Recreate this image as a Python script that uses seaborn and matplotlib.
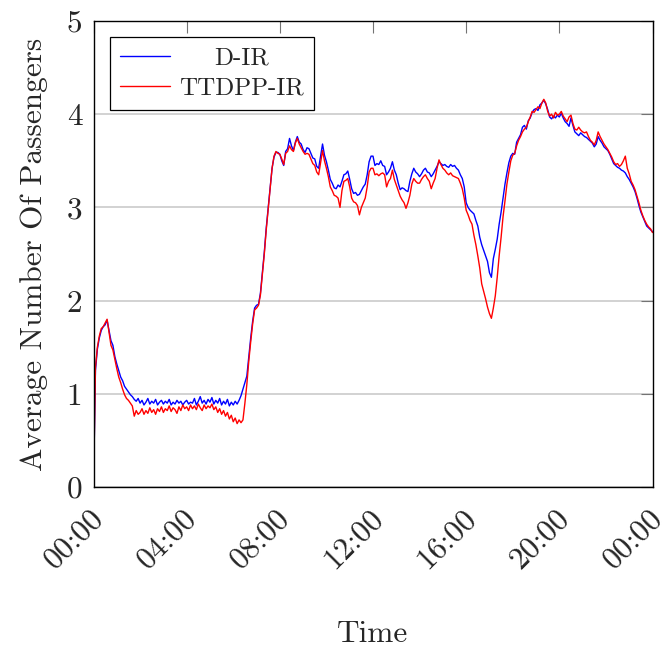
import numpy as np
import pandas as pd
import matplotlib
matplotlib.use("Agg")
import matplotlib.pyplot as plt
import seaborn as sns
from matplotlib.transforms import Affine2D, ScaledTranslation

# ---------------- data (5-minute samples, 00:00 .. 24:00) ----------------
minutes = list(range(0, 1441, 5))

d_ir = [
    0.00, 1.25, 1.48, 1.60, 1.68, 1.72, 1.74, 1.79, 1.68, 1.57, 1.52, 1.40,
    1.32, 1.25, 1.18, 1.14, 1.08, 1.05, 1.02, 0.99, 0.97, 0.94, 0.92, 0.95,
    0.90, 0.93, 0.88, 0.91, 0.95, 0.89, 0.92, 0.90, 0.94, 0.88, 0.91, 0.93,
    0.89, 0.92, 0.90, 0.94, 0.88, 0.91, 0.89, 0.93, 0.90, 0.92, 0.88, 0.91,
    0.93, 0.89, 0.91, 0.90, 0.95, 0.88, 0.92, 0.97, 0.90, 0.93, 0.89, 0.94,
    0.91, 0.96, 0.89, 0.93, 0.90, 0.95, 0.88, 0.92, 0.89, 0.94, 0.87, 0.91,
    0.88, 0.92, 0.89, 0.93, 0.98, 1.05, 1.12, 1.19, 1.40, 1.60, 1.78, 1.92,
    1.95, 1.96, 2.08, 2.30, 2.52, 2.78, 3.00, 3.21, 3.42, 3.54, 3.59, 3.59,
    3.57, 3.50, 3.45, 3.60, 3.63, 3.74, 3.66, 3.61, 3.70, 3.76, 3.70, 3.68,
    3.62, 3.59, 3.64, 3.63, 3.58, 3.53, 3.52, 3.44, 3.42, 3.55, 3.68, 3.56,
    3.49, 3.40, 3.30, 3.26, 3.21, 3.20, 3.24, 3.22, 3.28, 3.35, 3.36, 3.39,
    3.30, 3.20, 3.15, 3.16, 3.13, 3.14, 3.18, 3.22, 3.25, 3.35, 3.49, 3.55,
    3.55, 3.45, 3.47, 3.46, 3.50, 3.45, 3.44, 3.35, 3.38, 3.42, 3.49, 3.40,
    3.35, 3.26, 3.19, 3.21, 3.20, 3.18, 3.17, 3.28, 3.36, 3.42, 3.38, 3.36,
    3.33, 3.36, 3.40, 3.42, 3.38, 3.37, 3.33, 3.36, 3.40, 3.44, 3.49, 3.47,
    3.45, 3.46, 3.44, 3.43, 3.46, 3.44, 3.45, 3.42, 3.40, 3.35, 3.31, 3.22,
    3.05, 3.00, 2.97, 2.95, 2.93, 2.86, 2.80, 2.68, 2.60, 2.54, 2.48, 2.42,
    2.30, 2.25, 2.45, 2.55, 2.66, 2.82, 2.95, 3.10, 3.25, 3.37, 3.48, 3.55,
    3.58, 3.57, 3.70, 3.74, 3.78, 3.86, 3.88, 3.84, 3.93, 3.96, 4.02, 4.05,
    4.06, 4.04, 4.10, 4.12, 4.15, 4.11, 4.05, 3.97, 3.95, 3.98, 3.96, 3.99,
    3.97, 4.01, 3.96, 3.92, 3.90, 3.87, 3.96, 3.88, 3.81, 3.79, 3.77, 3.80,
    3.78, 3.76, 3.75, 3.73, 3.71, 3.69, 3.65, 3.68, 3.76, 3.72, 3.69, 3.65,
    3.63, 3.61, 3.57, 3.52, 3.47, 3.45, 3.43, 3.42, 3.40, 3.39, 3.37, 3.33,
    3.30, 3.26, 3.22, 3.17, 3.10, 3.02, 2.95, 2.90, 2.85, 2.80, 2.78, 2.76,
    2.74,
]

ttdpp_ir = [
    0.00, 1.28, 1.50, 1.62, 1.70, 1.72, 1.76, 1.80, 1.66, 1.52, 1.47, 1.37,
    1.27, 1.18, 1.12, 1.05, 0.99, 0.95, 0.93, 0.90, 0.87, 0.76, 0.82, 0.78,
    0.80, 0.84, 0.78, 0.82, 0.79, 0.85, 0.80, 0.83, 0.78, 0.84, 0.81, 0.86,
    0.80, 0.84, 0.82, 0.87, 0.81, 0.85, 0.83, 0.79, 0.86, 0.82, 0.88, 0.84,
    0.86, 0.82, 0.88, 0.84, 0.87, 0.83, 0.89, 0.85, 0.82, 0.88, 0.84, 0.87,
    0.85, 0.89, 0.83, 0.86, 0.80, 0.84, 0.78, 0.82, 0.76, 0.80, 0.73, 0.77,
    0.70, 0.74, 0.68, 0.72, 0.69, 0.72, 0.90, 1.10, 1.35, 1.56, 1.75, 1.90,
    1.92, 1.95, 2.06, 2.28, 2.50, 2.76, 2.98, 3.20, 3.42, 3.55, 3.60, 3.58,
    3.57, 3.52, 3.46, 3.58, 3.60, 3.66, 3.62, 3.60, 3.69, 3.74, 3.68, 3.64,
    3.60, 3.57, 3.58, 3.57, 3.52, 3.47, 3.45, 3.38, 3.35, 3.48, 3.61, 3.50,
    3.42, 3.33, 3.22, 3.18, 3.13, 3.12, 3.10, 3.00, 3.18, 3.28, 3.29, 3.31,
    3.22, 3.10, 3.06, 3.05, 3.02, 2.92, 3.00, 3.05, 3.10, 3.22, 3.38, 3.42,
    3.42, 3.35, 3.36, 3.34, 3.36, 3.37, 3.35, 3.22, 3.28, 3.31, 3.40, 3.30,
    3.24, 3.18, 3.12, 3.08, 3.05, 2.99, 3.05, 3.13, 3.25, 3.31, 3.28, 3.26,
    3.26, 3.30, 3.33, 3.35, 3.31, 3.28, 3.20, 3.26, 3.31, 3.42, 3.51, 3.46,
    3.42, 3.40, 3.37, 3.35, 3.37, 3.34, 3.33, 3.32, 3.31, 3.26, 3.20, 3.10,
    2.97, 2.92, 2.86, 2.82, 2.70, 2.60, 2.48, 2.35, 2.18, 2.10, 2.02, 1.93,
    1.86, 1.81, 1.92, 2.05, 2.25, 2.48, 2.68, 2.90, 3.07, 3.25, 3.38, 3.50,
    3.56, 3.58, 3.66, 3.72, 3.76, 3.81, 3.84, 3.86, 3.92, 3.97, 4.03, 4.02,
    4.05, 4.08, 4.06, 4.12, 4.16, 4.12, 4.03, 3.98, 4.00, 3.96, 4.02, 3.99,
    4.00, 4.03, 3.98, 3.95, 3.92, 3.97, 3.99, 3.90, 3.84, 3.83, 3.86, 3.83,
    3.81, 3.80, 3.81, 3.76, 3.72, 3.70, 3.67, 3.72, 3.81, 3.76, 3.72, 3.68,
    3.65, 3.62, 3.58, 3.54, 3.49, 3.46, 3.47, 3.44, 3.46, 3.50, 3.55, 3.42,
    3.36, 3.28, 3.24, 3.19, 3.12, 3.05, 2.97, 2.91, 2.86, 2.82, 2.79, 2.77,
    2.73,
]

series_names = ["D-IR", "TTDPP-IR"]
series_colors = ["#0000ff", "#ff0000"]
tick_hours = [0, 4, 8, 12, 16, 20, 24]
tick_labels = ["00:00", "04:00", "08:00", "12:00", "16:00", "20:00", "00:00"]
y_ticks = [0, 1, 2, 3, 4, 5]

# ---------------- styling ----------------
sns.set_style("white")
plt.rcParams['font.family'] = ['cmr10', 'DejaVu Serif']
plt.rcParams['axes.unicode_minus'] = False
plt.rcParams['mathtext.fontset'] = 'cm'

hours = np.array(minutes) / 60.0
n = len(minutes)
df = pd.DataFrame({
    "hour": np.concatenate([hours, hours]),
    "value": np.array(d_ir + ttdpp_ir),
    "series": [series_names[0]] * n + [series_names[1]] * n,
})

W, H = 668, 647
fig = plt.figure(figsize=(W / 100, H / 100), dpi=100)
ax = fig.add_axes([93.5 / W, 1 - 487 / H, 559 / W, 466 / H])

sns.lineplot(data=df, x="hour", y="value", hue="series",
             hue_order=series_names,
             palette=dict(zip(series_names, series_colors)),
             estimator=None, sort=False, linewidth=1.0, legend=False, ax=ax)

fs = 22.5
ax.set_xlim(0, 24)
ax.set_ylim(0, 5)
ax.tick_params(axis='both', which='major', direction='in', length=8.5,
               width=0.8, color='0.45', top=True, right=True,
               labelsize=fs)
ax.tick_params(axis='x', pad=12)
ax.tick_params(axis='y', pad=8)
ax.set_xticks(tick_hours)
ax.set_xticklabels(tick_labels, rotation=45, ha='right', va='top',
                   rotation_mode='anchor')
ax.set_yticks(y_ticks)
ax.set_yticklabels([str(v) for v in y_ticks])
shift = ScaledTranslation(-4.5 / 100, 0, fig.dpi_scale_trans)
for lab in ax.get_xticklabels():
    lab.set_transform(lab.get_transform() + shift)

ax.yaxis.grid(True, color='#cfcfcf', linewidth=1.3)
ax.xaxis.grid(False)
ax.set_axisbelow(True)
for sp in ax.spines.values():
    sp.set_color('black')
    sp.set_linewidth(1.0)

ax.set_xlabel("Time", fontsize=fs, va='top')
ax.xaxis.set_label_coords(0.5, -0.285)
ax.set_ylabel("Average Number Of Passengers", fontsize=fs)
ax.yaxis.set_label_coords(-0.082, 0.5)

handles = ax.lines[:2]
leg = ax.legend(handles, series_names, loc='upper left',
                bbox_to_anchor=(16 / 559, 1 - 16 / 466), borderaxespad=0,
                fontsize=18.0, frameon=True, fancybox=False,
                edgecolor='black', framealpha=1, handlelength=2.0,
                handletextpad=0.4, borderpad=0.4, labelspacing=0.3)
leg.get_frame().set_linewidth(0.9)

# centre legend labels in their column (as in the original)
fig.canvas.draw()
texts = leg.get_texts()
widths = [t.get_window_extent().width for t in texts]
wmax = max(widths)
for t, w in zip(texts, widths):
    dx = (wmax - w) / 2
    if dx > 0:
        t.set_transform(t.get_transform() + Affine2D().translate(dx, 0))

fig.savefig("out.png", dpi=100)
